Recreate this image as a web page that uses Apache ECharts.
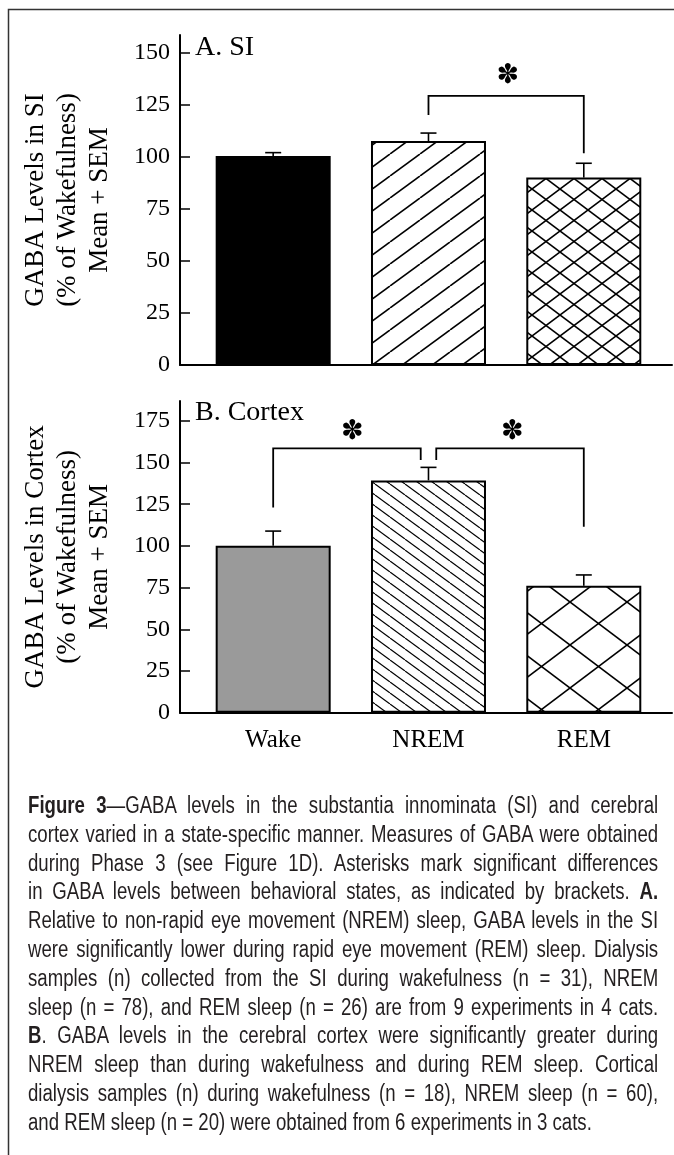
<!DOCTYPE html>
<html>
<head>
<meta charset="utf-8">
<script src="https://cdn.jsdelivr.net/npm/echarts@6/dist/echarts.min.js"></script>
<style>
  body { margin: 0; background: #fff; }
  #wrap { position: relative; width: 674px; height: 1155px; overflow: hidden; }
  #box { position: absolute; left: 0; top: 0; width: 674px; height: 1155px; }
  #cap { position: absolute; left: 28px; top: 791px; width: 778px;
         transform: scaleX(0.81); transform-origin: 0 0;
         font-family: "Liberation Sans", Arial, sans-serif;
         font-size: 23px; line-height: 28.8px; color: #231f20; }
  #cap div { text-align: justify; text-align-last: justify; white-space: nowrap; }
  #cap div.last { text-align-last: left; }
</style>
</head>
<body>
<div id="wrap">
  <div id="box"></div>
  <div id="cap">
    <div><b>Figure 3</b>—GABA levels in the substantia innominata (SI) and cerebral</div>
    <div>cortex varied in a state-specific manner. Measures of GABA were obtained</div>
    <div>during Phase 3 (see Figure 1D). Asterisks mark significant differences</div>
    <div>in GABA levels between behavioral states, as indicated by brackets. <b>A.</b></div>
    <div>Relative to non-rapid eye movement (NREM) sleep, GABA levels in the SI</div>
    <div>were significantly lower during rapid eye movement (REM) sleep. Dialysis</div>
    <div>samples (n) collected from the SI during wakefulness (n = 31), NREM</div>
    <div>sleep (n = 78), and REM sleep (n = 26) are from 9 experiments in 4 cats.</div>
    <div><b>B</b>. GABA levels in the cerebral cortex were significantly greater during</div>
    <div>NREM sleep than during wakefulness and during REM sleep. Cortical</div>
    <div>dialysis samples (n) during wakefulness (n = 18), NREM sleep (n = 60),</div>
    <div class="last">and REM sleep (n = 20) were obtained from 6 experiments in 3 cats.</div>
  </div>
</div>
<script>
// data
var categories = ['Wake', 'NREM', 'REM'];
var siMean = [100.4, 107.6, 90.0];
var siSem = [1.6, 3.8, 6.9];
var cortexMean = [100.1, 139.3, 76.1];
var cortexSem = [8.8, 7.8, 6.5];
var siTicks = [0, 25, 50, 75, 100, 125, 150];
var cortexTicks = [0, 25, 50, 75, 100, 125, 150, 175];
// brackets: [x start, x end, bar height, left leg end, right leg end]
var siBrackets = [[1, 2, 129.3, 120.1, 101.7]];
var cortexBrackets = [[0, 0.95, 158.5, 123.1, 151.5], [1.05, 2, 158.5, 151.5, 111.5]];
var siStars = [[1.51, 138.7]];
var cortexStars = [[0.51, 168.5], [1.54, 168.5]];

var serif = '"Liberation Serif", "Times New Roman", serif';

// hatch fill tiles
function hatch(w, h, dirs, lw) {
    var c = document.createElement('canvas');
    c.width = w;
    c.height = h;
    var g = c.getContext('2d');
    g.fillStyle = '#fff';
    g.fillRect(0, 0, w, h);
    g.strokeStyle = '#000';
    g.lineWidth = lw;
    dirs.forEach(function (d) {
        for (var k = -1; k <= 1; k++) {
            g.beginPath();
            if (d == '/') {
                g.moveTo(k * w, h);
                g.lineTo(k * w + w, 0);
            } else {
                g.moveTo(k * w, 0);
                g.lineTo(k * w + w, h);
            }
            g.stroke();
        }
    });
    return { image: c, repeat: 'repeat' };
}

var siFills = ['#000', hatch(30, 22, ['/'], 1.6), hatch(28, 21, ['/', '\\'], 1.6)];
var cortexFills = ['#9a9a9a', hatch(15, 11, ['\\'], 1.2), hatch(57, 43, ['/', '\\'], 1.6)];

function barData(means, fills) {
    var list = [];
    for (let i = 0; i < means.length; i++) {
        list.push({
            value: [i, means[i]],
            itemStyle: { color: fills[i], borderColor: '#000', borderWidth: 2 }
        });
    }
    return list;
}

function errData(means, sems) {
    var list = [];
    for (let i = 0; i < means.length; i++) {
        list.push([i, means[i], sems[i]]);
    }
    return list;
}

function errItem(params, api) {
    var x = api.value(0), m = api.value(1), e = api.value(2);
    var p0 = api.coord([x, m]);
    var p1 = api.coord([x, m + e]);
    return {
        type: 'group',
        children: [{
            type: 'line',
            shape: { x1: p0[0], y1: p0[1], x2: p1[0], y2: p1[1] },
            style: { stroke: '#000', lineWidth: 1.6 }
        }, {
            type: 'line',
            shape: { x1: p1[0] - 8, y1: p1[1], x2: p1[0] + 8, y2: p1[1] },
            style: { stroke: '#000', lineWidth: 1.6 }
        }]
    };
}

function bracketItem(params, api) {
    var a = api.value(0), b = api.value(1), t = api.value(2);
    var pts = [
        api.coord([a, api.value(3)]),
        api.coord([a, t]),
        api.coord([b, t]),
        api.coord([b, api.value(4)])
    ];
    return {
        type: 'polyline',
        shape: { points: pts },
        style: { stroke: '#000', lineWidth: 1.8, fill: null }
    };
}

function starItem(params, api) {
    var p = api.coord([api.value(0), api.value(1)]);
    return {
        type: 'text',
        x: p[0],
        y: p[1],
        style: {
            text: '✽',
            fill: '#000',
            font: '27px "DejaVu Sans"',
            align: 'center',
            verticalAlign: 'middle'
        }
    };
}

function yAxisFor(grid, max, ticks, name) {
    return {
        gridIndex: grid,
        type: 'value',
        min: 0,
        max: max,
        name: name,
        nameLocation: 'middle',
        nameRotate: 90,
        nameGap: 64,
        nameTextStyle: { fontFamily: serif, fontSize: 27, color: '#000', lineHeight: 32 },
        axisLine: { show: true, onZero: false, lineStyle: { color: '#000', width: 2 } },
        axisTick: { show: true, inside: true, length: 10, customValues: ticks, lineStyle: { color: '#000', width: 1.5 } },
        axisLabel: { customValues: ticks, margin: 10, fontFamily: serif, fontSize: 24, color: '#000' },
        splitLine: { show: false }
    };
}

function xAxisFor(grid, labels) {
    return {
        gridIndex: grid,
        type: 'value',
        min: -0.6,
        max: 2.568,
        axisLine: { show: true, onZero: false, lineStyle: { color: '#000', width: 2 } },
        axisTick: { show: false },
        axisLabel: {
            show: labels,
            customValues: [0, 1, 2],
            margin: 15,
            fontFamily: serif,
            fontSize: 25,
            color: '#000',
            formatter: function (v) {
                return categories[Math.round(v)];
            }
        },
        splitLine: { show: false }
    };
}

var myChart = echarts.init(document.getElementById('box'));

var option = {
    backgroundColor: '#fff',
    animation: false,
    title: [{
        text: 'A. SI', left: 195, top: 34, padding: 0,
        textStyle: { fontFamily: serif, fontSize: 28, fontWeight: 'normal', color: '#000' }
    }, {
        text: 'B. Cortex', left: 195, top: 399, padding: 0,
        textStyle: { fontFamily: serif, fontSize: 28, fontWeight: 'normal', color: '#000' }
    }],
    graphic: [{
        type: 'rect',
        shape: { x: 8.5, y: 9.5, width: 800, height: 1300 },
        style: { fill: null, stroke: '#333', lineWidth: 1.5 },
        silent: true
    }],
    grid: [
        { left: 180, right: 2, top: 35, bottom: 790, outerBoundsMode: 'none' },
        { left: 180, right: 2, top: 401, bottom: 442.3, outerBoundsMode: 'none' }
    ],
    xAxis: [xAxisFor(0, false), xAxisFor(1, true)],
    yAxis: [
        yAxisFor(0, 158.5, siTicks, 'GABA Levels in SI\n(% of Wakefulness)\nMean + SEM'),
        yAxisFor(1, 186.9, cortexTicks, 'GABA Levels in Cortex\n(% of Wakefulness)\nMean + SEM')
    ],
    series: [{
        type: 'bar', xAxisIndex: 0, yAxisIndex: 0, barWidth: 115,
        data: barData(siMean, siFills)
    }, {
        type: 'bar', xAxisIndex: 1, yAxisIndex: 1, barWidth: 115,
        data: barData(cortexMean, cortexFills)
    }, {
        type: 'custom', xAxisIndex: 0, yAxisIndex: 0, z: 5,
        renderItem: errItem, data: errData(siMean, siSem)
    }, {
        type: 'custom', xAxisIndex: 1, yAxisIndex: 1, z: 5,
        renderItem: errItem, data: errData(cortexMean, cortexSem)
    }, {
        type: 'custom', xAxisIndex: 0, yAxisIndex: 0, z: 5,
        renderItem: bracketItem, data: siBrackets
    }, {
        type: 'custom', xAxisIndex: 1, yAxisIndex: 1, z: 5,
        renderItem: bracketItem, data: cortexBrackets
    }, {
        type: 'custom', xAxisIndex: 0, yAxisIndex: 0, z: 5,
        renderItem: starItem, data: siStars
    }, {
        type: 'custom', xAxisIndex: 1, yAxisIndex: 1, z: 5,
        renderItem: starItem, data: cortexStars
    }]
};

myChart.setOption(option);
</script>
</body>
</html>
